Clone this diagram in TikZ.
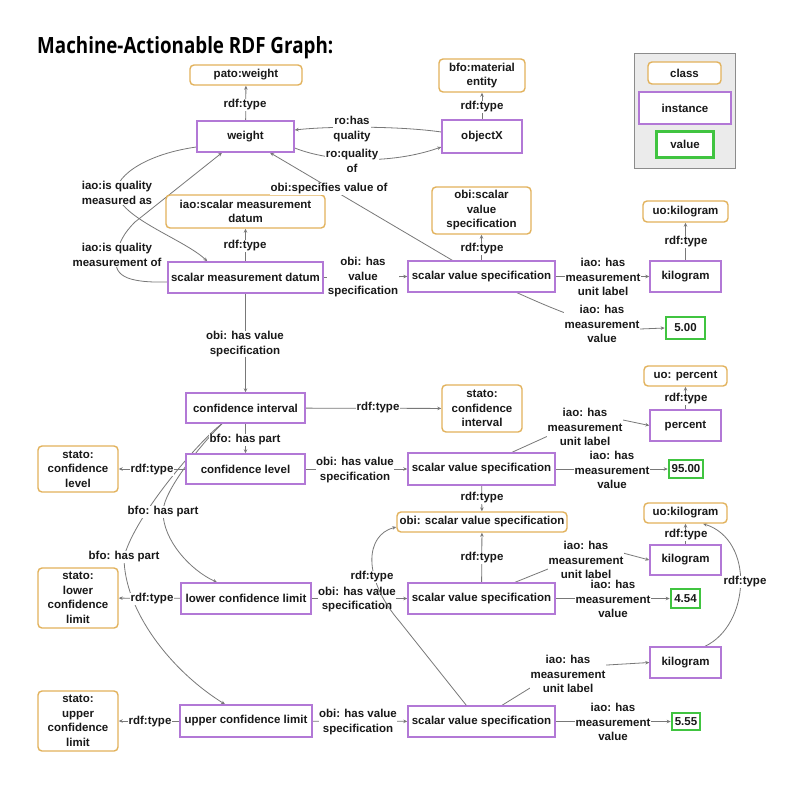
\documentclass[tikz,border=0pt]{standalone}
\usepackage{fontspec}
\usepackage{graphicx}
\setmainfont{Liberation Sans}
\newfontfamily\titlefont{Open Sans}
\usetikzlibrary{arrows.meta,backgrounds,calc}
\definecolor{clsc}{RGB}{226,178,92}
\definecolor{instc}{RGB}{178,120,214}
\definecolor{valc}{RGB}{64,196,64}
\definecolor{edgec}{RGB}{120,120,120}
\newcommand{\lblfont}{\bfseries\fontsize{11.5}{14.5}\selectfont}
\tikzset{
  basebox/.style={inner sep=0pt, align=center, font=\lblfont, fill=white, text=black!90},
  clsbox/.style={basebox, draw=clsc, line width=1.4pt, rounded corners=4pt},
  instbox/.style={basebox, draw=instc, line width=1.4pt},
  valbox/.style={basebox, draw=valc, line width=2.6pt},
  lbl/.style={inner sep=0.6pt, align=center, font=\lblfont, fill=white, text=black!90},
  arr/.style={draw=edgec, line width=0.8pt, -{Stealth[length=4pt,width=3.5pt]}}
}
\begin{document}
\begin{tikzpicture}[x=1pt,y=-1pt]
\useasboundingbox (0,0) rectangle (800,785);
\begin{scope}[on background layer]
\fill[white] (0,0) rectangle (800,785);
\end{scope}
% title
\node[anchor=base west, inner sep=0pt] (title) at (37,53) {\resizebox{296pt}{17pt}{\titlefont\bfseries Machine-Actionable RDF Graph:}};
% legend
\node[draw=black!45, fill=black!8, line width=0.8pt, minimum width=101pt, minimum height=115pt, inner sep=0pt] (legend) at (684.5,110.5) {};
\node[clsbox, minimum width=73pt, minimum height=22pt] (lgcls) at (684.5,73) {class};
\node[instbox, minimum width=92pt, minimum height=32pt] (lginst) at (685,108) {instance};
\node[valbox, minimum width=57pt, minimum height=26pt] (lgval) at (685,144.5) {value};
% class nodes
\node[clsbox, minimum width=112pt, minimum height=20pt] (patow) at (246,75) {pato:weight};
\node[clsbox, minimum width=86pt, minimum height=33pt] (bfome) at (482,75.5) {bfo:material\\entity};
\node[clsbox, minimum width=159pt, minimum height=33pt] (iaosmd) at (245.5,211.5) {iao:scalar measurement\\datum};
\node[clsbox, minimum width=99pt, minimum height=47pt] (obisvs1) at (481.5,210.5) {obi:scalar\\value\\specification};
\node[clsbox, minimum width=85pt, minimum height=21pt] (uokg1) at (685.5,211.5) {uo:kilogram};
\node[clsbox, minimum width=80pt, minimum height=47pt] (statoci) at (482,408.5) {stato:\\confidence\\interval};
\node[clsbox, minimum width=83pt, minimum height=20pt] (uopct) at (685.5,376) {uo: percent};
\node[clsbox, minimum width=80pt, minimum height=46pt] (statocl) at (78,469) {stato:\\confidence\\level};
\node[clsbox, minimum width=170pt, minimum height=20pt] (obisvs2) at (482,522) {obi: scalar value specification};
\node[clsbox, minimum width=83pt, minimum height=20pt] (uokg2) at (685.5,513) {uo:kilogram};
\node[clsbox, minimum width=80pt, minimum height=60pt] (statolcl) at (78,598) {stato:\\lower\\confidence\\limit};
\node[clsbox, minimum width=80pt, minimum height=60pt] (statoucl) at (78,721) {stato:\\upper\\confidence\\limit};
% instance nodes
\node[instbox, minimum width=97pt, minimum height=31pt] (weight) at (245.5,136.5) {weight};
\node[instbox, minimum width=80pt, minimum height=33pt] (objx) at (482,136.5) {objectX};
\node[instbox, minimum width=155pt, minimum height=31pt] (smd) at (245.5,277.5) {scalar measurement datum};
\node[instbox, minimum width=147pt, minimum height=31pt] (svs1) at (481.5,276.5) {scalar value specification};
\node[instbox, minimum width=71pt, minimum height=31pt] (kg1) at (685.5,276.5) {kilogram};
\node[instbox, minimum width=119pt, minimum height=30pt] (ci) at (245.5,408) {confidence interval};
\node[instbox, minimum width=119pt, minimum height=30pt] (cl) at (245.5,469) {confidence level};
\node[instbox, minimum width=71pt, minimum height=31pt] (pct) at (685.5,425.5) {percent};
\node[instbox, minimum width=147pt, minimum height=32pt] (svs2) at (481.5,469) {scalar value specification};
\node[instbox, minimum width=71pt, minimum height=30pt] (kg2) at (685.5,560) {kilogram};
\node[instbox, minimum width=130pt, minimum height=31pt] (lcl) at (246,598.5) {lower confidence limit};
\node[instbox, minimum width=147pt, minimum height=31pt] (svs3) at (481.5,598.5) {scalar value specification};
\node[instbox, minimum width=71pt, minimum height=31pt] (kg3) at (685.5,662.5) {kilogram};
\node[instbox, minimum width=132pt, minimum height=32pt] (ucl) at (246,721) {upper confidence limit};
\node[instbox, minimum width=147pt, minimum height=31pt] (svs4) at (481.5,721.5) {scalar value specification};
% value nodes
\node[valbox, minimum width=39pt, minimum height=22pt] (v500) at (685.5,328) {5.00};
\node[valbox, minimum width=34pt, minimum height=18pt] (v9500) at (686,469) {95.00};
\node[valbox, minimum width=29pt, minimum height=19pt] (v454) at (685.5,598.5) {4.54};
\node[valbox, minimum width=28pt, minimum height=17pt] (v555) at (686,721.5) {5.55};
% edges (behind)
\begin{scope}[on background layer]
\draw[arr] (weight) -- (patow);
\draw[arr] (objx) -- (bfome);
\draw[arr] ($(objx.west)+(0,-4.5)$) .. controls (400,126) and (330,126) .. ($(weight.east)+(0,-6.5)$);
\draw[arr] ($(weight.east)+(0,11.5)$) .. controls (330,162) and (390,165) .. ($(objx.west)+(0,10.5)$);
\draw[arr] ($(svs1.north west)+(45,0)$) -- ($(weight.south)+(24.5,0)$);
\draw[arr] ($(weight.west)+(0,10.5)$) .. controls (140,155) and (112,180) .. (117,195) .. controls (125,220) and (185,240) .. ($(smd.north west)+(40,0)$);
\draw[arr] ($(smd.west)+(0,4.5)$) .. controls (125,283) and (112,275) .. (117,255) .. controls (119,242) and (124,233) .. (135,222) -- ($(weight.south)+(-23.5,0)$);
\draw[arr] (smd) -- (iaosmd);
\draw[arr] (smd.east) -- (svs1.west);
\draw[arr] (svs1) -- (obisvs1);
\draw[arr] (svs1.east) -- (kg1.west);
\draw[arr] (kg1) -- (uokg1);
\draw[arr] ($(svs1.south)+(35.5,0)$) .. controls (560,312) and (600,329) .. (640,329) -- (v500.west);
\draw[arr] (smd) -- (ci);
\draw[arr] (ci) -- (statoci);
\draw[arr] (ci) -- (cl);
\draw[arr] ($(ci.south)+(-23.5,0)$) .. controls (205,440) and (163,490) .. (163,512) .. controls (163,540) and (190,570) .. ($(lcl.north)+(-29,0)$);
\draw[arr] ($(ci.south)+(-23.5,0)$) .. controls (200,440) and (135,515) .. (124,557) .. controls (124,610) and (170,670) .. ($(ucl.north)+(-21,0)$);
\draw[arr] (cl) -- (statocl);
\draw[arr] (cl) -- (svs2);
\draw[arr] ($(svs2.north)+(30.5,0)$) -- (548,436) .. controls (580,421) .. (623,420) -- (pct.west);
\draw[arr] (svs2) -- (v9500);
\draw[arr] (svs2) -- (obisvs2);
\draw[arr] (pct) -- (uopct);
\draw[arr] (svs3) -- (obisvs2);
\draw[arr] (lcl) -- (statolcl);
\draw[arr] (lcl) -- (svs3);
\draw[arr] ($(svs3.north)+(33.5,0)$) -- (548,569) .. controls (580,554) .. (623,553) -- (kg2.west);
\draw[arr] (svs3) -- (v454);
\draw[arr] (kg2) -- (uokg2);
\draw[arr] ($(kg3.north)+(19.5,0)$) .. controls (750,625) and (755,540) .. ($(uokg2.south)+(17.5,0)$);
\draw[arr] ($(svs4.north)+(20.5,0)$) -- (530,688) .. controls (565,668) .. (607,665) -- (kg3.west);
\draw[arr] (svs4) -- (v555);
\draw[arr] (ucl) -- (statoucl);
\draw[arr] (ucl) -- (svs4);
\end{scope}
% labels
\node[lbl] (lpw) at (245,105) {rdf:type};
\node[lbl] (lbfo) at (482,107) {rdf:type};
\node[lbl] (lhq) at (352,129) {ro:has\\quality};
\node[lbl] (lqo) at (352,161) {ro:quality\\of};
\node[lbl] (lsv) at (329,189) {obi:specifies value of};
\node[lbl] (lqma) at (117,193) {iao:is quality\\measured as};
\node[lbl] (lqmo) at (117,255) {iao:is quality\\measurement of};
\node[lbl] (lsmdt) at (245,246) {rdf:type};
\node[lbl] (lsmdsvs) at (363,277.5) {obi: has\\value\\specification};
\node[lbl] (lsvs1t) at (482,249) {rdf:type};
\node[lbl] (lunit1) at (603,277) {iao: has\\measurement\\unit label};
\node[lbl] (lkg1t) at (686,242) {rdf:type};
\node[lbl] (lval1) at (602,324) {iao: has\\measurement\\value};
\node[lbl] (lsmdci) at (245,344) {obi: has value\\specification};
\node[lbl] (lcit) at (378,408) {rdf:type};
\node[lbl] (lcicl) at (245,440) {bfo: has part};
\node[lbl] (lcilcl) at (163,512) {bfo: has part};
\node[lbl] (lciucl) at (124,557) {bfo: has part};
\node[lbl] (lpctt) at (686,399) {rdf:type};
\node[lbl] (lclt) at (152,470) {rdf:type};
\node[lbl] (lclsvs) at (355,470) {obi: has value\\specification};
\node[lbl] (lunit2) at (585,427) {iao: has\\measurement\\unit label};
\node[lbl] (lval2) at (612,470) {iao: has\\measurement\\value};
\node[lbl] (lsvs2t) at (482,498) {rdf:type};
\node[lbl] (lkg2t) at (686,535) {rdf:type};
\node[lbl] (lsvs3t) at (482,558) {rdf:type};
\node[lbl] (lunit3) at (586,560) {iao: has\\measurement\\unit label};
\node[lbl] (llclt) at (152,599) {rdf:type};
\node[lbl] (llclsvs) at (357,599.5) {obi: has value\\specification};
\node[lbl] (lval3) at (613,599) {iao: has\\measurement\\value};
\node[lbl] (lkg3t) at (745,582) {rdf:type};
\node[lbl] (lunit4) at (568,674) {iao: has\\measurement\\unit label};
\node[lbl] (lval4) at (613,722) {iao: has\\measurement\\value};
\node[lbl] (luclt) at (150,722) {rdf:type};
\node[lbl] (luclsvs) at (358,722) {obi: has value\\specification};
% curve drawn over the lower label
\draw[arr] ($(svs4.north west)+(59,0)$) -- (400,622) .. controls (362,578) and (365,535) .. ($(obisvs2.west)+(0,5)$);
\node[lbl] (lsvs4t) at (372,577) {rdf:type};
\end{tikzpicture}
\end{document}
